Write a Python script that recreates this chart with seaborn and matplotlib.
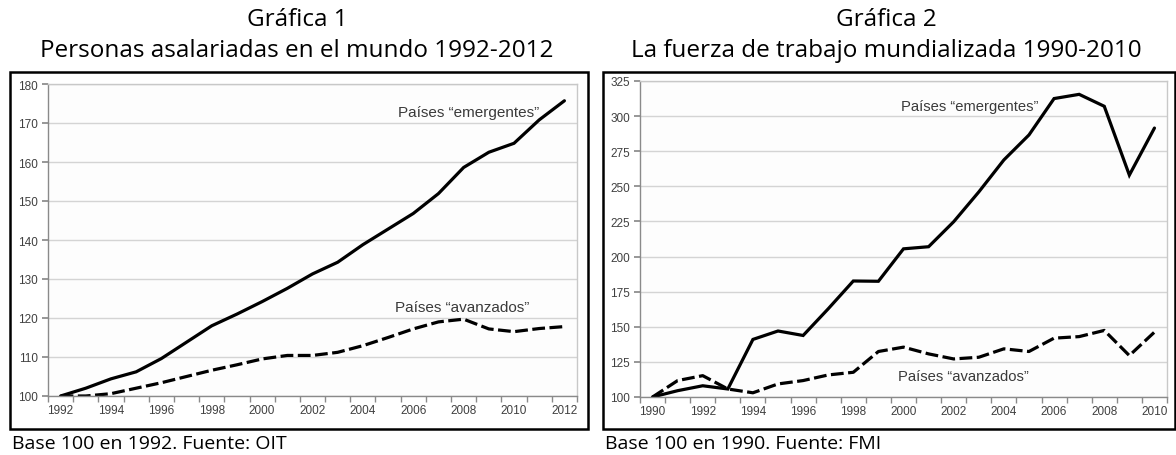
import numpy as np
import pandas as pd
import seaborn as sns
import matplotlib.pyplot as plt
from matplotlib.patches import Rectangle
from matplotlib.ticker import MultipleLocator, FixedLocator

# ---------------- data ----------------
years1 = list(range(1992, 2013))
emerg1 = [100, 102, 104.4, 106.2, 109.6, 113.8, 118, 121, 124.2, 127.6, 131.3,
          134.3, 138.8, 142.8, 146.8, 151.9, 158.6, 162.5, 164.8, 170.8, 175.7]
avanz1 = [100, 100, 100.6, 102, 103.4, 105, 106.6, 108, 109.5, 110.4, 110.4,
          111.2, 112.9, 115, 117.2, 119, 119.7, 117.2, 116.5, 117.3, 117.8]

years2 = list(range(1990, 2011))
emerg2 = [100, 104.5, 108, 105.7, 141, 147, 143.8, 162.8, 182.6, 182.4, 205.5,
          207, 224.8, 246, 268.8, 286.6, 312.5, 315.5, 307, 258, 291.5]
avanz2 = [100, 111.7, 115.2, 105.7, 103, 109.3, 111.7, 115.7, 117.6, 132.4, 135.5,
          130.7, 127.1, 128.3, 134.3, 132.4, 141.9, 143, 147.4, 129.5, 146.2]

label_em = "Países \u201cemergentes\u201d"
label_av = "Países \u201cavanzados\u201d"

titles1 = ["Gráfica 1", "Personas asalariadas en el mundo 1992-2012"]
titles2 = ["Gráfica 2", "La fuerza de trabajo mundializada 1990-2010"]
notes = ["Base 100 en 1992. Fuente: OIT", "Base 100 en 1990. Fuente: FMI"]

# ---------------- figure ----------------
sns.set_theme(style="white")
plt.rcParams['font.family'] = ['Liberation Sans', 'DejaVu Sans']

W, H = 1176, 456
fig = plt.figure(figsize=(W / 100, H / 100), dpi=100)
fig.patch.set_facecolor("white")


def px_axes(l, t, r, b):
    return fig.add_axes([l / W, 1 - b / H, (r - l) / W, (b - t) / H])


def style_axes(ax, ymin, ymax, ystep, x0, x1):
    ax.set_facecolor("#fdfdfd")
    ax.set_ylim(ymin, ymax)
    ax.set_xlim(x0 - 0.5, x1 + 0.5)
    ax.yaxis.set_major_locator(MultipleLocator(ystep))
    ax.set_xticks(list(range(x0, x1 + 1, 2)))
    ax.xaxis.set_minor_locator(FixedLocator(np.arange(x0 - 0.5, x1 + 1, 1.0)))
    ax.grid(axis="y", color="#d4d4d4", linewidth=1.0)
    ax.grid(axis="x", visible=False)
    for s in ax.spines.values():
        s.set_visible(True)
        s.set_color("#c8c8c8")
        s.set_linewidth(1.0)
    ax.spines["left"].set_color("#8a8a8a")
    ax.spines["bottom"].set_color("#8a8a8a")
    ax.tick_params(axis="x", which="major", length=0, labelsize=8.5,
                   labelcolor="#404040", pad=6)
    ax.tick_params(axis="x", which="minor", length=4, color="#8a8a8a",
                   direction="out", bottom=True)
    ax.tick_params(axis="y", which="major", length=4, color="#8a8a8a",
                   direction="out", left=True, labelsize=8.5,
                   labelcolor="#404040", pad=3)
    ax.set_xlabel("")
    ax.set_ylabel("")
    ax.set_axisbelow(True)


def draw_lines(ax, years, em, av):
    df = pd.DataFrame({"year": years, "em": em, "av": av})
    sns.lineplot(data=df, x="year", y="em", ax=ax, color="black",
                 linewidth=2.3, solid_joinstyle="miter")
    sns.lineplot(data=df, x="year", y="av", ax=ax, color="black",
                 linewidth=2.3, dashes=False, linestyle=(0, (4, 1.4)))


# panel 1
ax1 = px_axes(48, 85, 577, 397)
draw_lines(ax1, years1, emerg1, avanz1)
style_axes(ax1, 100, 180, 10, 1992, 2012)
ax1.text(2011.0, 172.8, label_em, ha="right", va="center", fontsize=11,
         color="#3a3a3a")
ax1.text(2010.6, 122.8, label_av, ha="right", va="center", fontsize=11,
         color="#3a3a3a")

# panel 2
ax2 = px_axes(640, 82, 1167, 398)
draw_lines(ax2, years2, emerg2, avanz2)
style_axes(ax2, 100, 325, 25, 1990, 2010)
ax2.text(1999.9, 307, label_em, ha="left", va="center", fontsize=10.6,
         color="#3a3a3a")
ax2.text(1999.8, 115, label_av, ha="left", va="center", fontsize=10.6,
         color="#3a3a3a")

# outer boxes
for (l, t, r, b) in [(10, 73, 588, 430), (603, 73, 1175, 430)]:
    fig.add_artist(Rectangle((l / W, 1 - b / H), (r - l) / W, (b - t) / H,
                             transform=fig.transFigure, fill=False,
                             edgecolor="black", linewidth=1.8))

# titles
tfont = ['Open Sans', 'DejaVu Sans']
for cx, tt in [(297, titles1), (886, titles2)]:
    fig.text(cx / W, 1 - 20 / H, tt[0], ha="center", va="center",
             fontsize=17.5, family=tfont, color="black")
    fig.text(cx / W, 1 - 51 / H, tt[1], ha="center", va="center",
             fontsize=17.5, family=tfont, color="black")

# notes
fig.text(12 / W, 1 - 444 / H, notes[0], ha="left", va="center",
         fontsize=14, family=tfont, color="black")
fig.text(605 / W, 1 - 444 / H, notes[1], ha="left", va="center",
         fontsize=14, family=tfont, color="black")

fig.savefig("out.png", dpi=100, facecolor="white")
